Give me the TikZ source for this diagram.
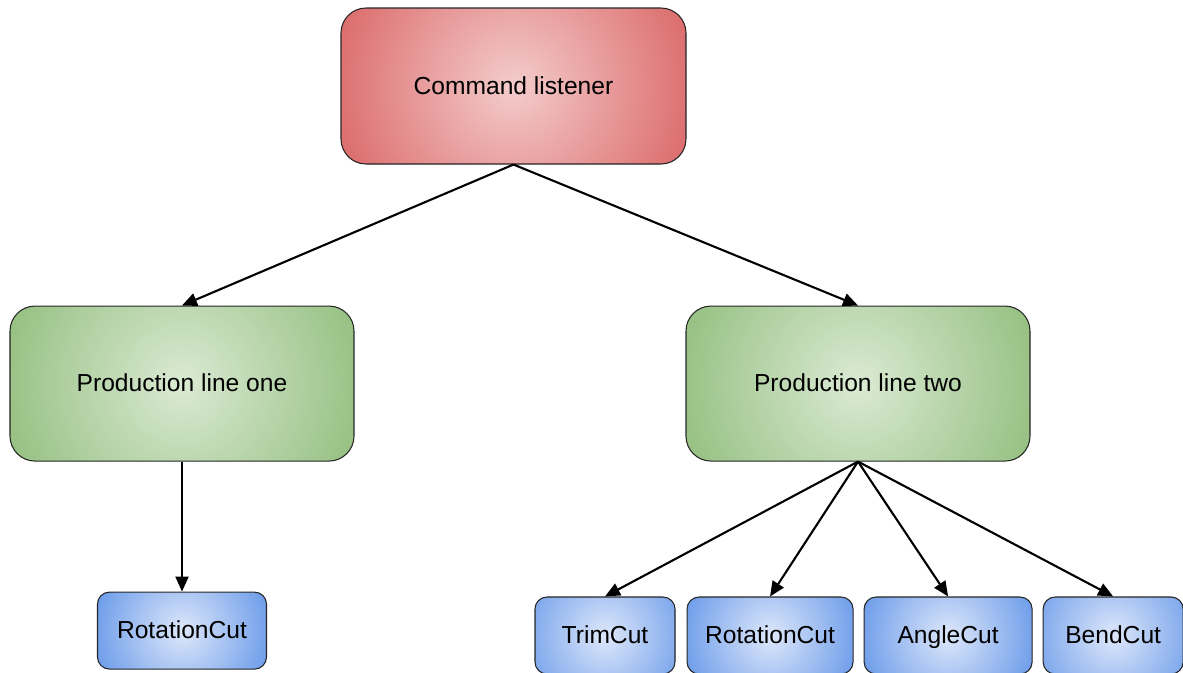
\documentclass[tikz,border=0pt]{standalone}
\usepackage{fontspec}
\setmainfont{Liberation Sans}
\usetikzlibrary{arrows.meta, positioning}
\definecolor{cmdred}{HTML}{DC6C6C}
\definecolor{cmdredlight}{HTML}{F4CCCC}
\definecolor{linegreen}{HTML}{96C082}
\definecolor{linegreenlight}{HTML}{DAEAD3}
\definecolor{cutblue}{HTML}{6E9DEA}
\definecolor{cutbluelight}{HTML}{DDE7FA}
\tikzset{
  >={Triangle[length=3mm, width=2.6mm]},
  % round glow: light centre, fading to #2 at radius #3
  glow/.style n args={3}{fill=#2,
    path picture={\shade[inner color=#1, outer color=#2]
      (path picture bounding box.center) circle (#3);}},
  box/.style={rectangle, draw=black!85, line width=0.6pt, align=center,
              inner sep=3pt, text height=1.05em, text depth=0.13em,
              font=\fontsize{14}{17}\selectfont},
  cmdbox/.style={box, rounded corners=0.5cm, minimum width=6.9cm, minimum height=3.12cm,
                 glow={cmdredlight}{cmdred}{3.7cm}},
  linebox/.style={box, rounded corners=0.5cm, minimum width=6.88cm, minimum height=3.1cm,
                  glow={linegreenlight}{linegreen}{3.7cm}},
  cutbox/.style={box, rounded corners=0.24cm, minimum height=1.54cm,
                 glow={cutbluelight}{cutblue}{1.8cm}},
  flow/.style={->, line width=1.2pt, draw=black},
}

\begin{document}
\begin{tikzpicture}
  \useasboundingbox (0,0) rectangle (23.66,-13.44);

  % top
  \node[cmdbox] (cmd) at (10.27,-1.72) {Command listener};

  % two production lines
  \node[linebox, below=2.82cm of cmd, xshift=-6.63cm] (lineone) {Production line one};
  \node[linebox, below=2.82cm of cmd, xshift=6.89cm] (linetwo) {Production line two};
  \draw[flow] (cmd.south) -- (lineone.north);
  \draw[flow] (cmd.south) -- (linetwo.north);

  % cuts of line one
  \node[cutbox, minimum width=3.38cm, below=2.6cm of lineone] (rotone) {RotationCut};
  \draw[flow] (lineone.south) -- (rotone.north);

  % cuts of line two
  \node[cutbox, minimum width=2.8cm] (trim) at (12.1,-12.71) {TrimCut};
  \node[cutbox, minimum width=3.32cm, right=2.2mm of trim] (rottwo) {RotationCut};
  \node[cutbox, minimum width=3.36cm, right=2mm of rottwo] (angle) {AngleCut};
  \node[cutbox, minimum width=2.8cm, right=2mm of angle] (bend) {BendCut};
  \foreach \c in {trim, rottwo, angle, bend}
    \draw[flow] (linetwo.south) -- (\c.north);
\end{tikzpicture}
\end{document}
